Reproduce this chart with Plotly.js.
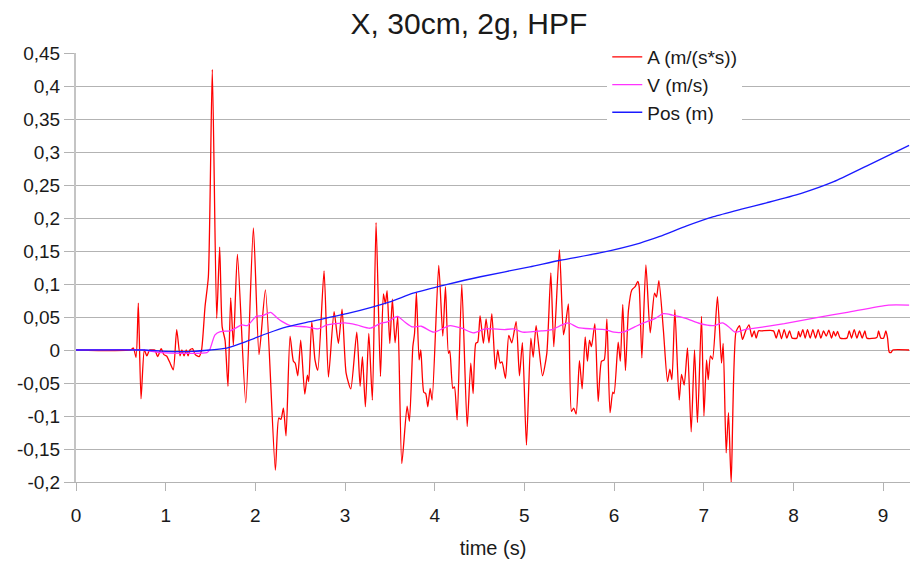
<!DOCTYPE html>
<html>
<head>
<meta charset="utf-8">
<script src="https://cdn.plot.ly/plotly-3.0.1.min.js"></script>
<style>html,body{margin:0;padding:0;background:#fff;}#chart{width:916px;height:561px;}</style>
</head>
<body>
<div id="chart"></div>
<script>
// ---- data ----
const seriesNames = ["A (m/(s*s))", "V (m/s)", "Pos (m)"];

const tA = [0,0.61,0.64,0.67,0.695,0.725,0.762,0.79,0.82,0.85,0.88,0.91,0.95,0.98,1.01,1.05,1.085,1.123,1.16,1.18,1.205,1.23,1.25,1.27,1.30,1.33,1.372,1.40,1.439,1.476,1.52,1.569,1.602,1.63,1.662,1.695,1.725,1.755,1.80,1.893,1.978,2.041,2.112,2.223,2.261,2.285,2.313,2.342,2.387,2.424,2.445,2.473,2.506,2.551,2.58,2.595,2.629,2.665,2.696,2.766,2.815,2.878,2.926,2.967,3.012,3.064,3.131,3.168,3.194,3.227,3.265,3.305,3.346,3.395,3.428,3.45,3.469,3.499,3.528,3.558,3.588,3.633,3.692,3.718,3.756,3.775,3.796,3.826,3.845,3.878,3.90,3.923,3.949,3.971,4.045,4.09,4.12,4.153,4.168,4.202,4.22,4.25,4.302,4.362,4.402,4.428,4.458,4.48,4.506,4.543,4.573,4.605,4.637,4.677,4.703,4.73,4.75,4.789,4.826,4.86,4.908,4.945,4.978,5.023,5.072,5.098,5.131,5.202,5.25,5.295,5.328,5.391,5.436,5.46,5.491,5.525,5.55,5.577,5.614,5.644,5.678,5.703,5.726,5.748,5.786,5.823,5.86,5.89,5.92,5.955,5.986,6.0,6.046,6.07,6.097,6.127,6.161,6.198,6.235,6.265,6.28,6.31,6.355,6.403,6.451,6.473,6.50,6.55,6.596,6.622,6.645,6.678,6.726,6.752,6.782,6.819,6.86,6.897,6.93,6.975,7.002,7.031,7.05,7.075,7.098,7.153,7.198,7.217,7.25,7.276,7.306,7.359,7.399,7.432,7.47,7.505,7.537,7.563,7.585,7.611,7.648,7.778,7.808,7.838,7.867,7.897,7.927,7.957,7.986,8.039,8.057,8.076,8.105,8.131,8.157,8.187,8.217,8.247,8.276,8.306,8.336,8.366,8.395,8.425,8.448,8.470,8.492,8.522,8.596,8.622,8.648,8.678,8.708,8.737,8.767,8.797,8.819,8.931,8.949,8.975,9.005,9.031,9.05,9.068,9.087,9.109,9.29];
const accel = [0,0,0.003,-0.011,0.071,-0.074,0.0,-0.009,0,0,0,-0.01,0.002,-0.007,-0.009,-0.02,-0.03,0.031,-0.009,0,-0.009,0,-0.009,0,0.002,-0.007,-0.01,0,0.066,0.111,0.425,0.048,0.156,0.035,0.015,-0.055,0.079,0.007,0.145,-0.080,0.185,-0.007,0.091,-0.182,-0.103,-0.105,-0.088,-0.130,0.021,-0.017,-0.020,-0.039,0.015,-0.067,-0.038,-0.048,0.043,-0.015,-0.031,0.120,-0.041,0.058,0.010,0.062,-0.035,-0.059,0.027,-0.055,-0.010,-0.086,0.025,-0.076,0.193,-0.040,0.085,0.07,0.090,0.010,0.077,0.011,0.051,-0.172,-0.085,-0.108,0.005,0.025,0.087,-0.015,0.0,-0.064,-0.066,-0.086,-0.058,-0.076,0.128,0.021,0.096,-0.005,-0.001,-0.058,-0.056,-0.106,0.099,-0.116,-0.020,-0.066,0.010,0.012,0.052,0.010,0.047,0.011,0.055,-0.029,0.0,-0.02,-0.018,-0.043,0.022,0.011,0.043,-0.039,0.011,-0.144,0.018,-0.011,0.037,-0.039,-0.005,0.117,0.005,0.152,0.023,0.04,0.070,-0.093,-0.088,-0.097,-0.016,-0.059,0.020,-0.017,0.015,0.005,0.040,-0.078,-0.017,-0.015,0.047,-0.095,-0.064,-0.066,0.012,-0.017,0.069,-0.031,0.061,0.091,0.096,0.104,0.096,-0.012,0.129,0.026,0.086,0.080,0.105,0.030,-0.048,-0.029,-0.045,0.061,-0.076,-0.037,-0.053,0.003,-0.124,0.000,-0.110,0.051,-0.100,-0.015,-0.045,-0.009,-0.014,0.081,-0.020,0.010,-0.156,-0.095,-0.201,0.027,0.037,0.016,0.030,0.038,0.020,0.029,0.018,0.029,0.029,0.029,0.018,0.031,0.017,0.031,0.018,0.029,0.018,0.018,0.028,0.020,0.031,0.018,0.031,0.018,0.031,0.018,0.031,0.018,0.029,0.021,0.030,0.018,0.028,0.021,0.028,0.018,0.018,0.029,0.018,0.031,0.018,0.029,0.018,0.029,0.018,0.019,0.029,0.018,0.018,0.029,0.018,-0.003,-0.004,0.0,0.0];

const tV = [0,0.75,0.95,1.2,1.46,1.49,1.55,1.61,1.72,1.85,1.91,2.01,2.08,2.17,2.24,2.30,2.39,2.57,2.70,2.80,3.0,3.13,3.28,3.39,3.48,3.585,3.67,3.75,3.85,3.99,4.17,4.3,4.43,4.56,4.65,4.78,4.88,4.98,5.2,5.31,5.42,5.49,5.6,5.75,5.9,6.0,6.1,6.23,6.31,6.46,6.55,6.65,6.80,6.96,7.11,7.21,7.28,7.35,7.46,7.57,7.9,8.26,8.6,9.06,9.29];
const vel = [0,0,-0.004,-0.005,-0.004,0.0,0.023,0.028,0.029,0.038,0.037,0.051,0.052,0.057,0.049,0.043,0.037,0.035,0.032,0.038,0.041,0.038,0.033,0.040,0.043,0.051,0.042,0.035,0.036,0.027,0.037,0.033,0.026,0.032,0.032,0.031,0.032,0.027,0.029,0.031,0.038,0.041,0.034,0.032,0.031,0.027,0.027,0.035,0.040,0.048,0.055,0.053,0.048,0.040,0.037,0.041,0.035,0.027,0.031,0.033,0.040,0.049,0.057,0.068,0.068];

const tP = [0,0.75,1.0,1.3,1.49,1.68,1.90,2.13,2.35,2.61,3.02,3.50,3.76,4.13,4.51,5.06,5.40,5.84,6.29,6.51,6.81,7.11,7.41,7.70,8.08,8.45,8.82,9.29];
const pos = [0,0,-0.002,-0.002,0.0,0.003,0.013,0.025,0.035,0.043,0.055,0.073,0.086,0.099,0.111,0.126,0.136,0.147,0.162,0.172,0.188,0.202,0.213,0.223,0.237,0.255,0.279,0.310];

const yTickVals = [0.45,0.4,0.35,0.3,0.25,0.2,0.15,0.1,0.05,0,-0.05,-0.1,-0.15,-0.2];
const yTickText = ["0,45","0,4","0,35","0,3","0,25","0,2","0,15","0,1","0,05","0","-0,05","-0,1","-0,15","-0,2"];
const xTickVals = [0,1,2,3,4,5,6,7,8,9];
const xTickText = ["0","1","2","3","4","5","6","7","8","9"];

const FONT = "Liberation Sans, Arial, sans-serif";

const traces = [
  {x: tA, y: accel, name: seriesNames[0], type: "scatter", mode: "lines",
   line: {color: "#ff0000", width: 1.3, shape: "spline", smoothing: 0.6}},
  {x: tV, y: vel, name: seriesNames[1], type: "scatter", mode: "lines",
   line: {color: "#ff33ff", width: 1.3, shape: "spline", smoothing: 0.6}},
  {x: tP, y: pos, name: seriesNames[2], type: "scatter", mode: "lines",
   line: {color: "#1a1aff", width: 1.3, shape: "spline", smoothing: 0.6}}
];

const layout = {
  width: 916, height: 561,
  margin: {l: 76, r: 6, t: 53, b: 79},
  paper_bgcolor: "#ffffff", plot_bgcolor: "#ffffff",
  font: {family: FONT, color: "#1a1a1a"},
  title: {text: "X, 30cm, 2g, HPF", font: {family: FONT, size: 30, color: "#1a1a1a"},
          x: 0.512, xref: "container", xanchor: "center", y: 0.958, yref: "container", yanchor: "middle"},
  xaxis: {range: [0, 9.3], tickvals: xTickVals, ticktext: xTickText, showgrid: false, zeroline: false,
          ticks: "outside", ticklen: 8, tickcolor: "#b3b3b3", tickwidth: 1,
          showline: true, linecolor: "#b3b3b3", linewidth: 1, ticklabelstandoff: 8,
          tickfont: {family: FONT, size: 19, color: "#1a1a1a"},
          title: {text: "time (s)", font: {family: FONT, size: 20, color: "#1a1a1a"}, standoff: 16}},
  yaxis: {range: [-0.2, 0.45], tickvals: yTickVals, ticktext: yTickText, showgrid: true,
          gridcolor: "#b3b3b3", gridwidth: 1, zeroline: false,
          ticks: "outside", ticklen: 10, tickcolor: "#b3b3b3", tickwidth: 1,
          showline: true, linecolor: "#c4c4c4", linewidth: 2,
          tickfont: {family: FONT, size: 19, color: "#1a1a1a"}},
  showlegend: true,
  legend: {x: 0.637, y: 1.035, xanchor: "left", yanchor: "top", bgcolor: "#ffffff", borderwidth: 0,
           font: {family: FONT, size: 19, color: "#1a1a1a"}, traceorder: "normal"}
};

Plotly.newPlot("chart", traces, layout, {displayModeBar: false, staticPlot: true});
</script>
</body>
</html>
